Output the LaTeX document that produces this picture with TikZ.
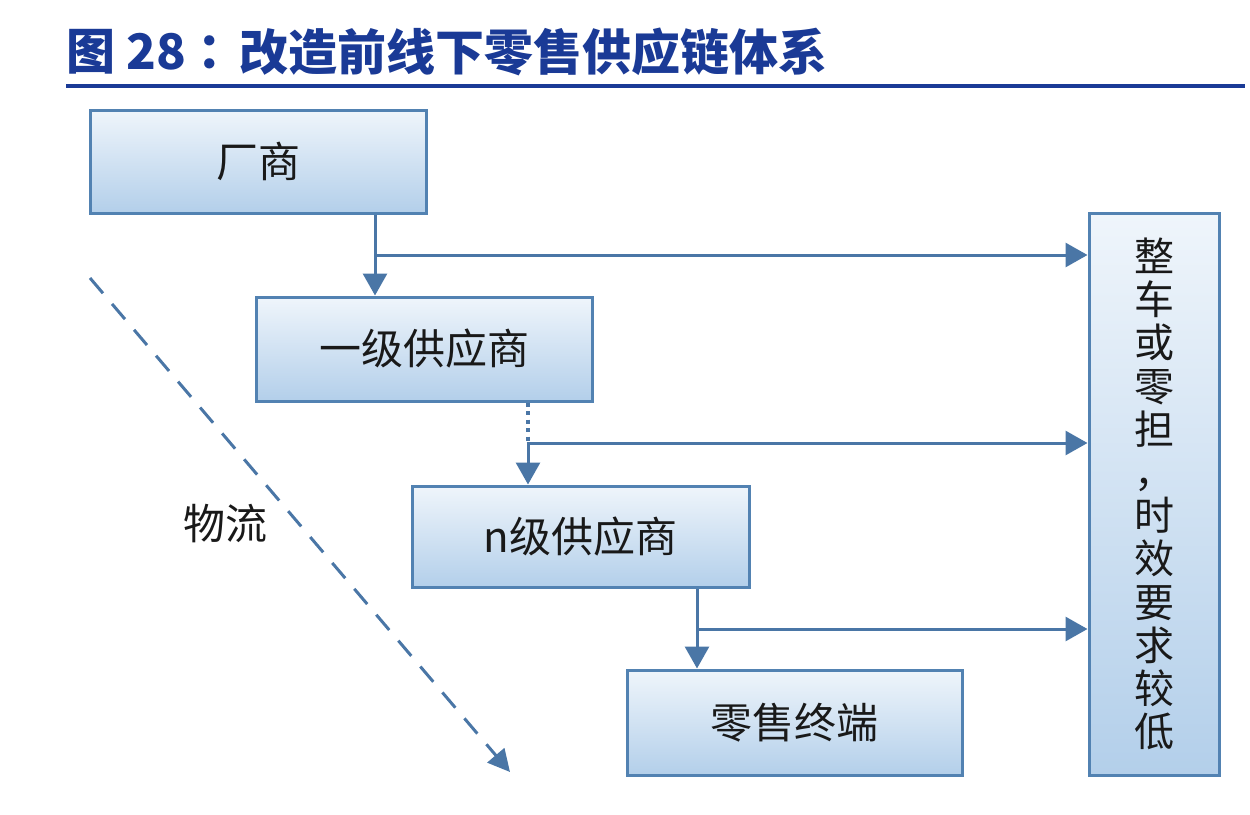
\documentclass[tikz,border=0pt]{standalone}
\usepackage{fontspec}
\setmainfont{Noto Sans CJK SC}
\newfontfamily\cjk{Noto Sans CJK SC}
\usetikzlibrary{arrows.meta}
\definecolor{titleblue}{HTML}{1A3A96}
\definecolor{linkblue}{HTML}{4A76A6}
\definecolor{boxedge}{HTML}{5282B2}
\definecolor{boxtop}{HTML}{EFF5FB}
\definecolor{boxbot}{HTML}{B3CFEA}
\tikzset{
  boxnode/.style={draw=boxedge, line width=3pt, top color=boxtop, bottom color=boxbot, inner sep=0pt, font=\cjk\fontsize{42}{48}\selectfont, text=black!90},
  conn/.style={draw=linkblue, line width=3pt},
  tip/.style={-{Triangle[width=24pt,length=22pt]}},
  titletext/.style={inner sep=0pt, text=titleblue, font=\cjk\bfseries\fontsize{49}{54}\selectfont},
}
\begin{document}
\begin{tikzpicture}[x=1pt,y=-1pt]
\useasboundingbox (0,0) rectangle (1250,814);
% title
\node[titletext, anchor=west] (title1) at (66,52) {图 28};
\node[titletext] (title2) at (222,52) {：};
\node[titletext, anchor=west] (title3) at (239,52) {改造前线下零售供应链体系};
\draw[titleblue, line width=4pt] (66,86) coordinate (tl) -- (1245,86) coordinate (tr);
% boxes
\node[boxnode, minimum width=336pt, minimum height=103pt] (m) at (258,161.5) {厂商};
\node[boxnode, minimum width=336pt, minimum height=104pt] (s1) at (424,349) {一级供应商};
\node[boxnode, minimum width=337pt, minimum height=101pt] (sn) at (580.5,536.5) {n级供应商};
\node[boxnode, minimum width=335pt, minimum height=105pt] (r) at (794.5,722.5) {零售终端};
\node[boxnode, minimum width=130pt, minimum height=562pt, align=center, font=\cjk\fontsize{40}{43.2}\selectfont] (t) at (1154,494) {整\\车\\或\\零\\担\\，\\时\\效\\要\\求\\较\\低};
% branch points
\coordinate (b1) at (375,255);
\coordinate (b2) at (528,443);
\coordinate (b3) at (697,629);
% connectors
\draw[conn, tip] (m.south -| b1) -- (s1.north -| b1);
\draw[conn, tip] (b1) -- (b1 -| t.west);
\draw[conn, line width=4pt, dash pattern=on 4pt off 4.5pt] (s1.south -| b2) -- (b2);
\draw[conn, tip] (b2) -- (sn.north -| b2);
\draw[conn, tip] ([xshift=-1.5pt]b2) -- (b2 -| t.west);
\draw[conn, tip] (sn.south -| b3) -- (r.north -| b3);
\draw[conn, tip] (b3) -- (b3 -| t.west);
% logistics
\coordinate (d1) at (90,278);
\coordinate (d2) at (510,772);
\draw[conn, dash pattern=on 20pt off 14pt, -{Triangle[width=22pt,length=22pt]}] (d1) -- (d2);
\node[font=\cjk\fontsize{42}{48}\selectfont, text=black!90] (wl) at (225,524) {物流};
\end{tikzpicture}
\end{document}
